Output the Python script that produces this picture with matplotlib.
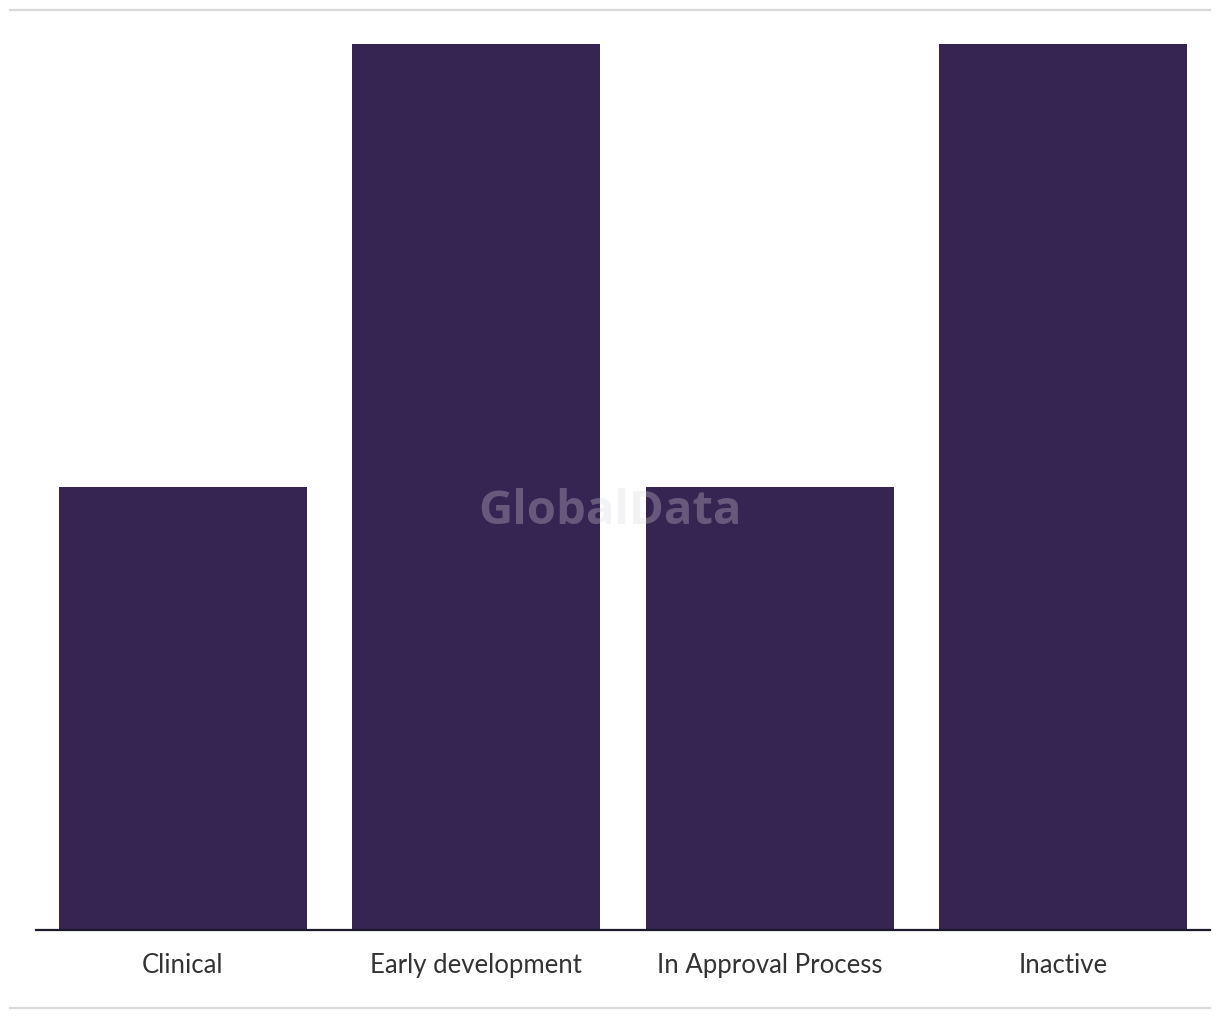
import matplotlib
matplotlib.use("Agg")
import matplotlib.pyplot as plt
from matplotlib.lines import Line2D

categories = ["Clinical", "Early development", "In Approval Process", "Inactive"]
values = [1, 2, 1, 2]

W, H = 1220, 1020
fig = plt.figure(figsize=(W / 100, H / 100), dpi=100)
ax = fig.add_axes([36 / W, 1 - 930.5 / H, (1210 - 36) / W, (930.5 - 45) / H])

bar_color = "#362452"
ax.bar(range(len(categories)), values, width=0.845, color=bar_color, zorder=2)
ax.set_xlim(-0.5, len(categories) - 0.5)
ax.set_ylim(0, max(values))

for s in ["top", "right", "left"]:
    ax.spines[s].set_visible(False)
ax.spines["bottom"].set_color("#1a1a2a")
ax.spines["bottom"].set_linewidth(1.6)
ax.spines["bottom"].set_zorder(3)
ax.set_yticks([])
ax.set_xticks(range(len(categories)))
ax.set_xticklabels(categories, fontsize=18.5, color="#333333", family="Lato")
ax.tick_params(axis="x", length=0, pad=16)

# watermark
fig.text(610 / W, 1 - 512 / H, "GlobalData", ha="center", va="center",
         fontsize=34, fontweight="bold", color="#d9d4e0", alpha=0.3,
         family="Open Sans", zorder=5)

# top and bottom gray rules
for y in (11, 1009):
    fig.add_artist(Line2D([10 / W, 1210 / W], [1 - y / H, 1 - y / H],
                          color="#d9d9d9", linewidth=1.6))

fig.savefig("out.png", dpi=100)
